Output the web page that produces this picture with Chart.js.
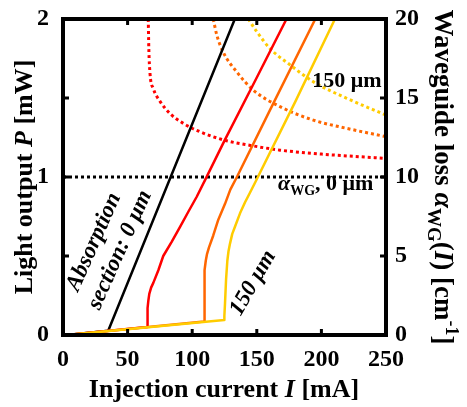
<html>
  <head>
    <title>Light output and waveguide loss</title>
    <style>
      body {
        margin: 0;
        background: #fff;
      }
    </style>
  </head>
  <body>
    <canvas id="chart" width="467" height="407"></canvas>

    <script src="https://cdn.jsdelivr.net/npm/chart.js@4"></script>
    <script type="text/javascript">
      // L-I curves, light output P [mW] vs injection current I [mA]
      const blackI = [3, 35, 133];
      const blackP = [0, 0.027, 2];
      const redI = [3, 65.2, 65.3, 65.6, 66.1, 66.8, 68.2, 69.9, 73.8, 77.6, 84.1, 90.6, 97, 103.5, 110.5, 125, 150, 173];
      const redP = [0, 0.05, 0.1, 0.17, 0.22, 0.26, 0.3, 0.33, 0.41, 0.5, 0.59, 0.685, 0.78, 0.875, 0.99, 1.23, 1.63, 2];
      const orangeI = [3, 109.2, 109.3, 109.5, 109.9, 110.5, 111.4, 113, 116.3, 120.2, 125.4, 129.5, 134.6, 160, 195.3];
      const orangeP = [0, 0.085, 0.2, 0.31, 0.41, 0.47, 0.51, 0.555, 0.63, 0.73, 0.83, 0.92, 1.0, 1.42, 2];
      const yellowI = [3, 124.8, 124.9, 125.4, 126.2, 127.2, 128.1, 129.3, 131, 133.1, 137, 140.9, 144.7, 149, 180, 210.5];
      const yellowP = [0, 0.095, 0.12, 0.2, 0.35, 0.47, 0.53, 0.58, 0.64, 0.685, 0.77, 0.84, 0.9, 0.97, 1.48, 2];

      // waveguide loss alpha_WG(I) [cm^-1]
      const redLossI = [66, 66.4, 67.4, 69.9, 75, 83, 93, 105, 124, 145, 168, 200, 250];
      const redLoss = [20, 18.2, 16.5, 15.6, 14.8, 14.0, 13.4, 12.9, 12.35, 12.0, 11.7, 11.45, 11.18];
      const orangeLossI = [116.3, 119, 124, 134.4, 147.3, 168, 193.7, 219.6, 250];
      const orangeLoss = [20, 19, 17.9, 16.66, 15.5, 14.45, 13.6, 13.08, 12.55];
      const yellowLossI = [143.4, 150, 160, 175.7, 193.7, 219.6, 250];
      const yellowLoss = [20, 19.2, 18.15, 17.1, 16.03, 14.98, 13.92];
      const baseLossI = [0, 250];
      const baseLoss = [10, 10];

      const xTicks = [0, 50, 100, 150, 200, 250];
      const yLeftTicks = [0, 1, 2];
      const yRightTicks = [0, 5, 10, 15, 20];

      const serif = '"Liberation Serif", "Times New Roman", serif';
      const bold = (size) => `bold ${size}px ${serif}`;
      const boldItalic = (size) => `italic bold ${size}px ${serif}`;

      const toPoints = (xs, ys) => xs.map((x, i) => ({ x, y: ys[i] }));

      const solid = (label, color, xs, ys) => ({
        label,
        data: toPoints(xs, ys),
        borderColor: color,
        borderWidth: 2.5,
        borderJoinStyle: 'round',
        pointRadius: 0,
        tension: 0,
        yAxisID: 'y',
      });
      const dotted = (label, color, xs, ys) => ({
        label,
        data: toPoints(xs, ys),
        borderColor: color,
        borderWidth: 3,
        borderDash: [3, 3],
        pointRadius: 0,
        cubicInterpolationMode: 'monotone',
        yAxisID: 'y2',
      });

      function drawRich(ctx, parts, x, y, rotation, align, baseline) {
        ctx.save();
        ctx.translate(x, y);
        ctx.rotate(rotation);
        ctx.fillStyle = '#000';
        ctx.textBaseline = baseline || 'alphabetic';
        let width = 0;
        parts.forEach((p) => {
          ctx.font = p.font;
          width += ctx.measureText(p.text).width;
        });
        let cx = align === 'center' ? -width / 2 : align === 'right' ? -width : 0;
        parts.forEach((p) => {
          ctx.font = p.font;
          ctx.fillText(p.text, cx, p.dy || 0);
          cx += ctx.measureText(p.text).width;
        });
        ctx.restore();
      }

      const framePlugin = {
        id: 'frame',
        afterDraw(chart) {
          const { ctx, chartArea: a, scales } = chart;
          ctx.save();
          ctx.strokeStyle = '#000';
          ctx.lineWidth = 4;
          ctx.lineCap = 'butt';
          ctx.strokeRect(a.left, a.top, a.right - a.left, a.bottom - a.top);
          ctx.lineWidth = 3;
          ctx.beginPath();
          [50, 100, 150, 200].forEach((v) => {
            const px = scales.x.getPixelForValue(v);
            ctx.moveTo(px, a.bottom);
            ctx.lineTo(px, a.bottom - 6);
            ctx.moveTo(px, a.top);
            ctx.lineTo(px, a.top + 6);
          });
          [0.5, 1, 1.5].forEach((v) => {
            const py = scales.y.getPixelForValue(v);
            ctx.moveTo(a.left, py);
            ctx.lineTo(a.left + 6, py);
          });
          [5, 10, 15].forEach((v) => {
            const py = scales.y2.getPixelForValue(v);
            ctx.moveTo(a.right, py);
            ctx.lineTo(a.right - 6, py);
          });
          ctx.stroke();
          ctx.restore();

          // axis titles
          drawRich(
            ctx,
            [
              { text: 'Injection current ', font: bold(26) },
              { text: 'I', font: boldItalic(26) },
              { text: ' [mA]', font: bold(26) },
            ],
            224,
            397,
            0,
            'center',
          );
          drawRich(
            ctx,
            [
              { text: 'Light output ', font: bold(26) },
              { text: 'P', font: boldItalic(26) },
              { text: ' [mW]', font: bold(26) },
            ],
            32,
            177,
            -Math.PI / 2,
            'center',
          );
          drawRich(
            ctx,
            [
              { text: 'Waveguide loss ', font: bold(27) },
              { text: 'α', font: boldItalic(28) },
              { text: 'WG', font: bold(19), dy: 7 },
              { text: '(', font: bold(27) },
              { text: 'I', font: boldItalic(27) },
              { text: ') [cm', font: bold(27) },
              { text: '-1', font: bold(18), dy: -11 },
              { text: ']', font: bold(27) },
            ],
            435,
            177,
            Math.PI / 2,
            'center',
          );

          // annotations
          drawRich(ctx, [{ text: '150 μm', font: bold(22) }], 347, 87, 0, 'center');
          drawRich(
            ctx,
            [
              { text: 'α', font: boldItalic(22) },
              { text: 'WG', font: bold(14), dy: 5 },
              { text: ', 0 μm', font: bold(22) },
            ],
            278,
            190,
            0,
            'left',
          );
          const ang = (-66 * Math.PI) / 180;
          drawRich(ctx, [{ text: 'Absorption', font: boldItalic(23) }], 94, 242, ang, 'center', 'middle');
          drawRich(ctx, [{ text: 'section: 0 μm', font: boldItalic(23) }], 120, 250, ang, 'center', 'middle');
          drawRich(
            ctx,
            [{ text: '150 μm', font: boldItalic(23) }],
            253,
            283,
            (-60 * Math.PI) / 180,
            'center',
            'middle',
          );
        },
      };

      const tickFont = { family: serif, size: 24, weight: 'bold' };
      const noPad = (scale) => {
        scale.paddingTop = 0;
        scale.paddingBottom = 0;
        scale.paddingLeft = 0;
        scale.paddingRight = 0;
      };

      new Chart(document.getElementById('chart'), {
        type: 'line',
        data: {
          datasets: [
            solid('150 um', '#ffcc00', yellowI, yellowP),
            solid('100 um', '#ff6600', orangeI, orangeP),
            solid('50 um', '#ff0000', redI, redP),
            solid('0 um', '#000000', blackI, blackP),
            dotted('loss 150 um', '#ffcc00', yellowLossI, yellowLoss),
            dotted('loss 100 um', '#ff6600', orangeLossI, orangeLoss),
            dotted('loss 50 um', '#ff0000', redLossI, redLoss),
            dotted('loss 0 um', '#000000', baseLossI, baseLoss),
          ],
        },
        options: {
          responsive: false,
          animation: false,
          events: [],
          layout: { padding: { top: 19, left: 0, right: 0, bottom: 0 } },
          plugins: { legend: { display: false }, tooltip: { enabled: false } },
          scales: {
            x: {
              type: 'linear',
              min: 0,
              max: 250,
              grid: { display: false, drawTicks: false },
              border: { display: false },
              afterBuildTicks: (scale) => {
                scale.ticks = xTicks.map((value) => ({ value }));
              },
              ticks: { font: tickFont, color: '#000', padding: 10, maxRotation: 0, autoSkip: false },
              afterFit: (scale) => {
                scale.height = 72;
                noPad(scale);
              },
            },
            y: {
              position: 'left',
              min: 0,
              max: 2,
              grid: { display: false, drawTicks: false },
              border: { display: false },
              afterBuildTicks: (scale) => {
                scale.ticks = yLeftTicks.map((value) => ({ value }));
              },
              ticks: { font: tickFont, color: '#000', padding: 14 },
              afterFit: (scale) => {
                scale.width = 63;
                noPad(scale);
              },
            },
            y2: {
              position: 'right',
              min: 0,
              max: 20,
              grid: { display: false, drawTicks: false },
              border: { display: false },
              afterBuildTicks: (scale) => {
                scale.ticks = yRightTicks.map((value) => ({ value }));
              },
              ticks: { font: tickFont, color: '#000', padding: 9 },
              afterFit: (scale) => {
                scale.width = 81;
                noPad(scale);
              },
            },
          },
        },
        plugins: [framePlugin],
      });
    </script>
  </body>
</html>
